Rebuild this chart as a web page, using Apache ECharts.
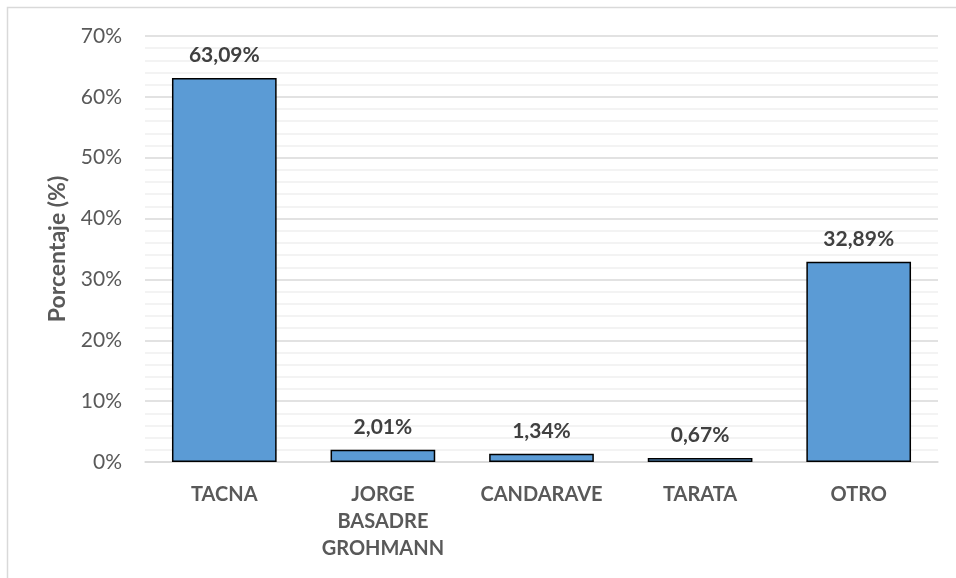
<!DOCTYPE html>
<html>
<head>
<meta charset="utf-8">
<script src="https://cdn.jsdelivr.net/npm/echarts@6/dist/echarts.min.js"></script>
<style>
  html, body { margin: 0; padding: 0; background: #fff; }
  #chart { width: 956px; height: 578px; }
</style>
</head>
<body>
<div id="chart"></div>
<script>
const categories = ['TACNA', 'JORGE\nBASADRE\nGROHMANN', 'CANDARAVE', 'TARATA', 'OTRO']
const values = [63.09, 2.01, 1.34, 0.67, 32.89]
const yTicks = [0, 10, 20, 30, 40, 50, 60, 70]

const font = 'Lato, "Open Sans", sans-serif'
const chart = echarts.init(document.getElementById('chart'))

chart.setOption({
  animation: false,
  backgroundColor: '#fff',
  graphic: [{
    type: 'rect',
    shape: { x: 7.5, y: 7.5, width: 1000, height: 1000 },
    style: { fill: 'none', stroke: '#d9d9d9', lineWidth: 1.5 },
    silent: true
  }],
  grid: { left: 145, right: 18, top: 36, bottom: 116 },
  xAxis: {
    type: 'category',
    data: categories,
    axisTick: { show: false },
    axisLine: { lineStyle: { color: '#d9d9d9', width: 1.5 } },
    axisLabel: {
      color: '#595959',
      fontFamily: font,
      fontWeight: 'bold',
      fontSize: 20,
      lineHeight: 27,
      margin: 19,
      interval: 0
    }
  },
  yAxis: {
    type: 'value',
    min: yTicks[0],
    max: yTicks[yTicks.length - 1],
    interval: 10,
    name: 'Porcentaje (%)',
    nameLocation: 'middle',
    nameGap: 76,
    nameTextStyle: { color: '#595959', fontFamily: font, fontWeight: 'bold', fontSize: 23 },
    axisLine: { show: false },
    axisTick: { show: false },
    axisLabel: {
      color: '#595959',
      fontFamily: font,
      fontSize: 21,
      margin: 23,
      formatter: v => v + '%'
    },
    splitLine: { lineStyle: { color: '#d9d9d9', width: 1.5 } },
    minorTick: { show: false, splitNumber: 5 },
    minorSplitLine: { show: true, lineStyle: { color: '#f0f0f0', width: 1.5 } }
  },
  series: [{
    type: 'bar',
    data: values,
    barWidth: '66%',
    itemStyle: { color: '#5b9bd5', borderColor: '#000', borderWidth: 1.5 },
    label: {
      show: true,
      position: 'top',
      distance: 12,
      color: '#404040',
      fontFamily: font,
      fontWeight: 'bold',
      fontSize: 21,
      formatter: p => p.value.toFixed(2).replace('.', ',') + '%'
    }
  }]
})
</script>
</body>
</html>
